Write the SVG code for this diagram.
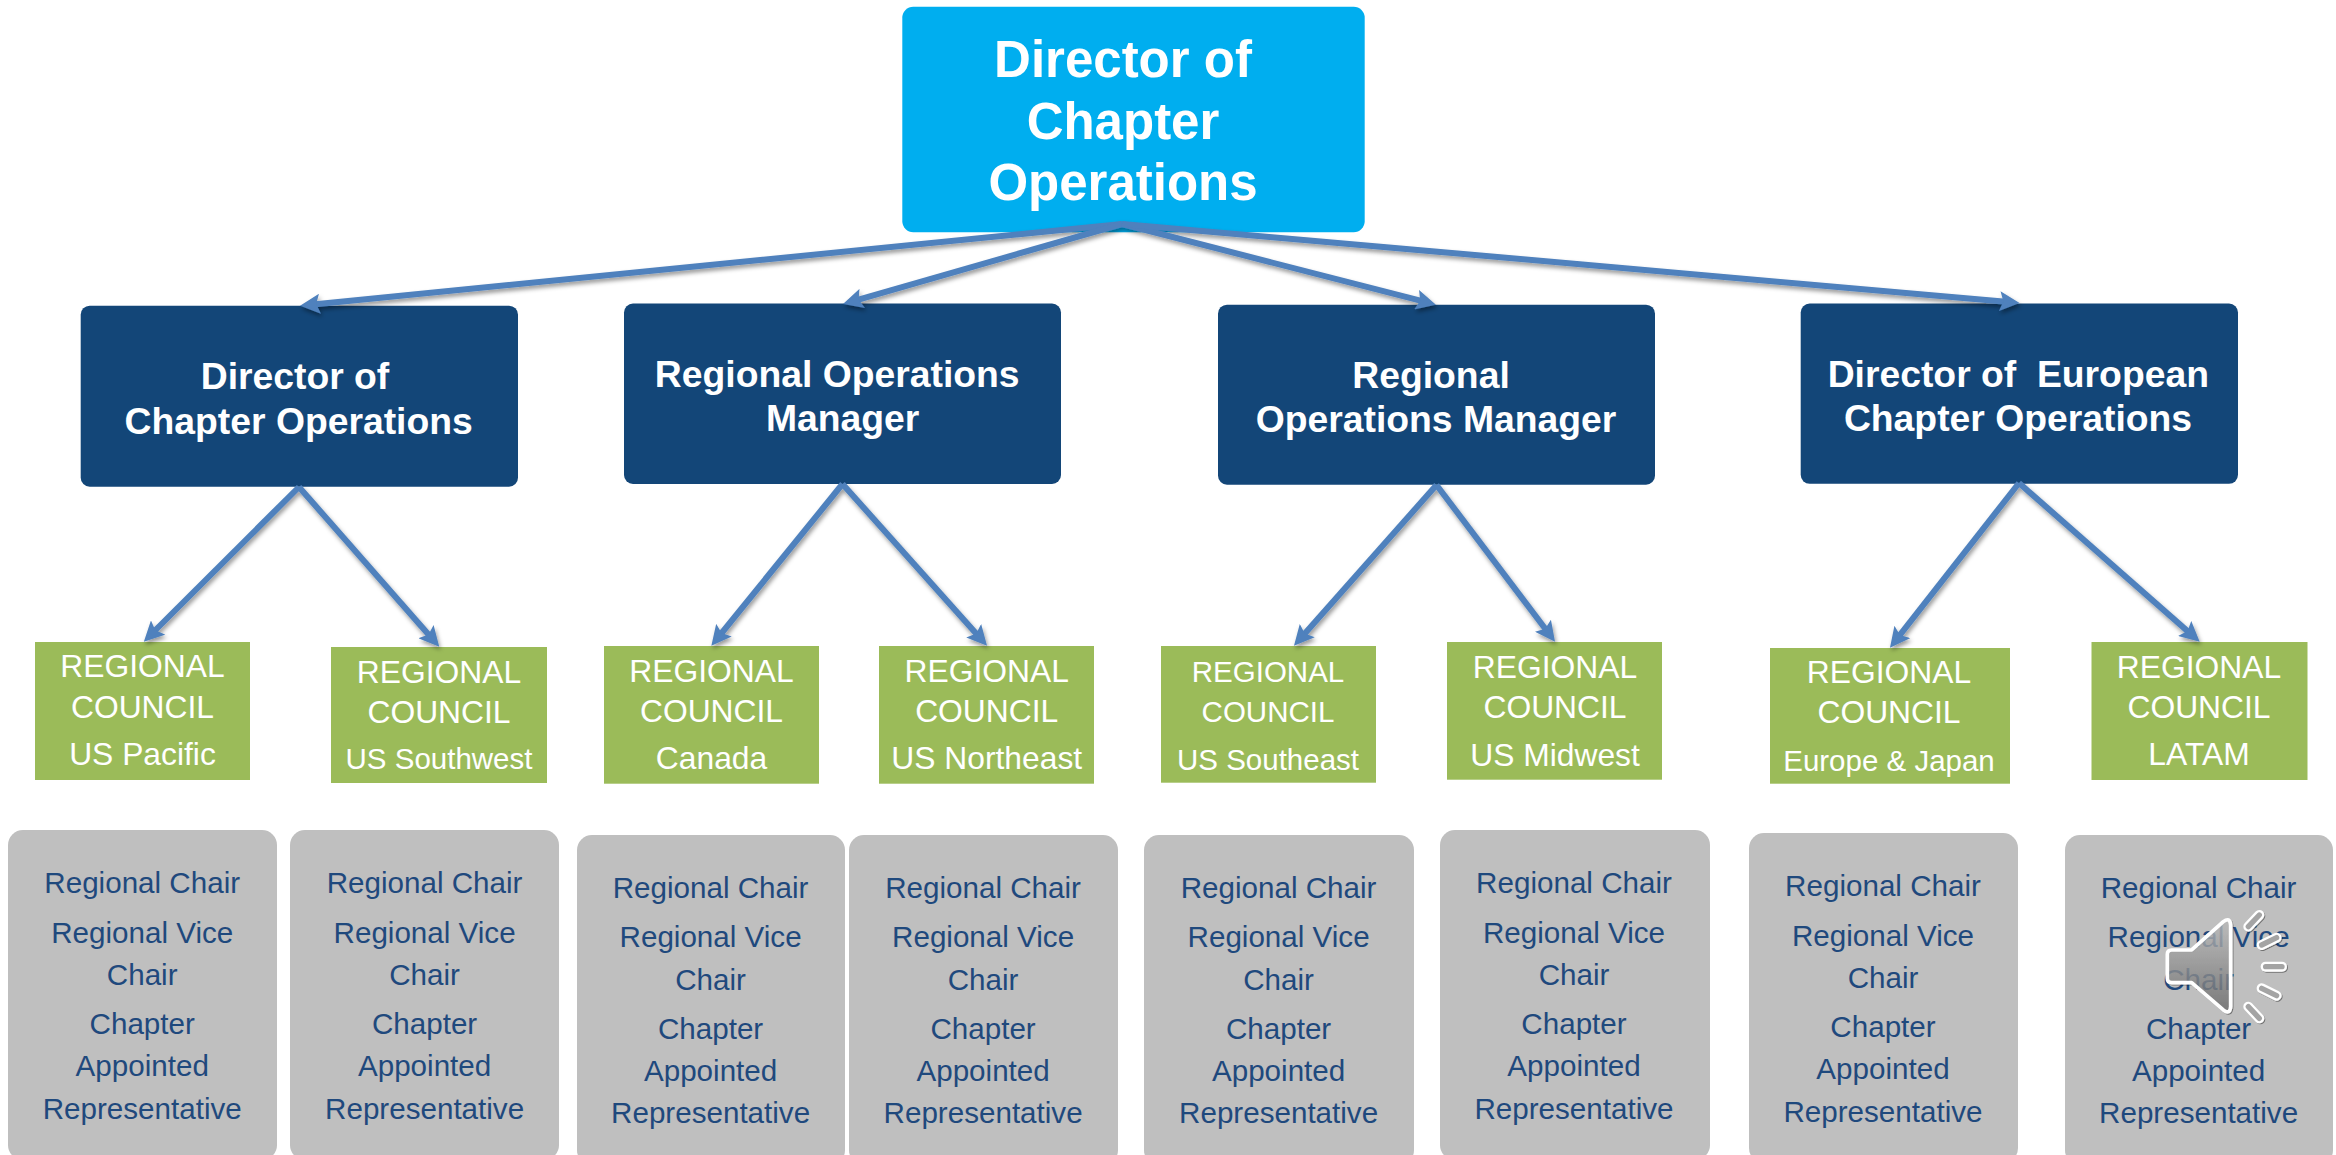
<svg xmlns="http://www.w3.org/2000/svg" width="2336" height="1155" viewBox="0 0 2336 1155">
<style>
text{font-family:"Liberation Sans",Arial,sans-serif;text-anchor:middle}
.top{fill:#00AEEF}
.nav{fill:#134678}
.grn{fill:#9BBB59}
.gry{fill:#BFBFBF}
.tt{fill:#fff;font-weight:bold;font-size:51px}
.nt{fill:#fff;font-weight:bold;font-size:37.3px;white-space:pre}
.gt{fill:#fff;font-size:31.8px}
.gs{fill:#fff;font-size:29.5px}
.rt{fill:#1F497D;font-size:29.6px}
.con line{stroke:#4F81BD;stroke-width:6;fill:none;marker-end:url(#ah)}
</style>
<defs>
<marker id="ah" markerUnits="userSpaceOnUse" markerWidth="20" markerHeight="20" refX="9.6" refY="8" orient="auto" viewBox="0 0 16 16"><path d="M0,0 L16,8 L0,16 L3,8 Z" fill="#4F81BD"/></marker>
<filter id="sh" x="-5%" y="-20%" width="110%" height="140%"><feDropShadow dx="1.5" dy="3" stdDeviation="2" flood-color="#000" flood-opacity=".4"/></filter>
<filter id="ish" x="-20%" y="-20%" width="150%" height="150%"><feDropShadow dx="3" dy="3" stdDeviation="2" flood-color="#000" flood-opacity=".4"/></filter>
<linearGradient id="spk" x1="0" y1="0" x2="0" y2="1"><stop offset="0" stop-color="#c4c4c4"/><stop offset="1" stop-color="#6f6f6f"/></linearGradient>
</defs>

<g id="director-top"><rect class="top" x="902.3" y="6.7" width="462.4" height="225.5" rx="11"/>
<text class="tt" x="1123" y="77">Director of</text><text class="tt" x="1123" y="138.7">Chapter</text><text class="tt" x="1123" y="200.4">Operations</text></g>

<g id="mgr-1"><rect class="nav" x="80.7" y="305.7" width="437.3" height="181" rx="9"/>
<text class="nt" x="295" y="389">Director of</text><text class="nt" x="298.7" y="434">Chapter Operations</text></g>
<g id="mgr-2"><rect class="nav" x="624" y="303.5" width="437" height="180.5" rx="9"/>
<text class="nt" x="837.2" y="387">Regional Operations</text><text class="nt" x="842.7" y="431.4">Manager</text></g>
<g id="mgr-3"><rect class="nav" x="1218" y="304.7" width="437" height="180" rx="9"/>
<text class="nt" x="1431" y="387.7">Regional</text><text class="nt" x="1436" y="432">Operations Manager</text></g>
<g id="mgr-4"><rect class="nav" x="1800.7" y="303.5" width="437.3" height="180.3" rx="9"/>
<text class="nt" x="2018.3" y="387" xml:space="preserve">Director of  European</text><text class="nt" x="2018" y="431">Chapter Operations</text></g>

<g id="rc-us-pacific"><rect class="grn" x="35" y="642" width="215" height="138"/>
<text class="gt" x="142.5" y="677.4">REGIONAL</text><text class="gt" x="142.5" y="717.5">COUNCIL</text><text class="gt" x="142.5" y="765.4">US Pacific</text></g>
<g id="rc-us-southwest"><rect class="grn" x="331" y="647" width="216" height="136"/>
<text class="gt" x="439" y="682.5">REGIONAL</text><text class="gt" x="439" y="722.5">COUNCIL</text><text class="gs" x="439" y="769.4">US Southwest</text></g>
<g id="rc-canada"><rect class="grn" x="604" y="646" width="215" height="137.7"/>
<text class="gt" x="711.5" y="681.7">REGIONAL</text><text class="gt" x="711.5" y="721.7">COUNCIL</text><text class="gt" x="711.5" y="769.4">Canada</text></g>
<g id="rc-us-northeast"><rect class="grn" x="879" y="646" width="215" height="137.7"/>
<text class="gt" x="986.7" y="681.7">REGIONAL</text><text class="gt" x="986.7" y="721.7">COUNCIL</text><text class="gt" x="986.7" y="769.4">US Northeast</text></g>
<g id="rc-us-southeast"><rect class="grn" x="1161" y="646" width="215" height="136.7"/>
<text class="gs" x="1268" y="682">REGIONAL</text><text class="gs" x="1268" y="722">COUNCIL</text><text class="gs" x="1268" y="769.6">US Southeast</text></g>
<g id="rc-us-midwest"><rect class="grn" x="1447" y="642" width="215" height="137.7"/>
<text class="gt" x="1555" y="678">REGIONAL</text><text class="gt" x="1555" y="718">COUNCIL</text><text class="gt" x="1555" y="765.6">US Midwest</text></g>
<g id="rc-europe-japan"><rect class="grn" x="1770" y="648" width="240" height="135.7"/>
<text class="gt" x="1889" y="682.6">REGIONAL</text><text class="gt" x="1889" y="722.6">COUNCIL</text><text class="gs" x="1889" y="771">Europe &amp; Japan</text></g>
<g id="rc-latam"><rect class="grn" x="2091.5" y="642" width="216" height="138"/>
<text class="gt" x="2199" y="678">REGIONAL</text><text class="gt" x="2199" y="717.7">COUNCIL</text><text class="gt" x="2199" y="765.3">LATAM</text></g>

<g id="roles-1"><rect class="gry" x="8" y="830" width="269" height="330" rx="15"/>
<text class="rt" x="142.2" y="893">Regional Chair</text><text class="rt" x="142.2" y="942.6">Regional Vice</text><text class="rt" x="142.2" y="985">Chair</text><text class="rt" x="142.2" y="1034">Chapter</text><text class="rt" x="142.2" y="1076.4">Appointed</text><text class="rt" x="142.2" y="1118.6">Representative</text></g>
<g id="roles-2"><rect class="gry" x="290" y="830" width="269" height="330" rx="15"/>
<text class="rt" x="424.6" y="893">Regional Chair</text><text class="rt" x="424.6" y="942.6">Regional Vice</text><text class="rt" x="424.6" y="985">Chair</text><text class="rt" x="424.6" y="1034">Chapter</text><text class="rt" x="424.6" y="1076.4">Appointed</text><text class="rt" x="424.6" y="1118.6">Representative</text></g>
<g id="roles-3"><rect class="gry" x="577" y="835" width="268" height="330" rx="15"/>
<text class="rt" x="710.6" y="898">Regional Chair</text><text class="rt" x="710.6" y="947.3">Regional Vice</text><text class="rt" x="710.6" y="990">Chair</text><text class="rt" x="710.6" y="1039">Chapter</text><text class="rt" x="710.6" y="1081.4">Appointed</text><text class="rt" x="710.6" y="1123.4">Representative</text></g>
<g id="roles-4"><rect class="gry" x="849" y="835" width="269" height="330" rx="15"/>
<text class="rt" x="983.1" y="898">Regional Chair</text><text class="rt" x="983.1" y="947.3">Regional Vice</text><text class="rt" x="983.1" y="990">Chair</text><text class="rt" x="983.1" y="1039">Chapter</text><text class="rt" x="983.1" y="1081.4">Appointed</text><text class="rt" x="983.1" y="1123.4">Representative</text></g>
<g id="roles-5"><rect class="gry" x="1144" y="835" width="270" height="330" rx="15"/>
<text class="rt" x="1278.6" y="898">Regional Chair</text><text class="rt" x="1278.6" y="947.3">Regional Vice</text><text class="rt" x="1278.6" y="990">Chair</text><text class="rt" x="1278.6" y="1039">Chapter</text><text class="rt" x="1278.6" y="1081.4">Appointed</text><text class="rt" x="1278.6" y="1123.4">Representative</text></g>
<g id="roles-6"><rect class="gry" x="1440" y="830" width="270" height="330" rx="15"/>
<text class="rt" x="1574" y="893">Regional Chair</text><text class="rt" x="1574" y="942.6">Regional Vice</text><text class="rt" x="1574" y="985">Chair</text><text class="rt" x="1574" y="1034">Chapter</text><text class="rt" x="1574" y="1076.4">Appointed</text><text class="rt" x="1574" y="1118.6">Representative</text></g>
<g id="roles-7"><rect class="gry" x="1749" y="833" width="269" height="330" rx="15"/>
<text class="rt" x="1883" y="896">Regional Chair</text><text class="rt" x="1883" y="945.6">Regional Vice</text><text class="rt" x="1883" y="988">Chair</text><text class="rt" x="1883" y="1037">Chapter</text><text class="rt" x="1883" y="1079.4">Appointed</text><text class="rt" x="1883" y="1121.6">Representative</text></g>
<g id="roles-8"><rect class="gry" x="2065" y="835" width="268" height="330" rx="15"/>
<text class="rt" x="2198.6" y="898">Regional Chair</text><text class="rt" x="2198.6" y="947.3">Regional Vice</text><text class="rt" x="2198.6" y="990">Chair</text><text class="rt" x="2198.6" y="1039">Chapter</text><text class="rt" x="2198.6" y="1081.4">Appointed</text><text class="rt" x="2198.6" y="1123.4">Representative</text></g>

<g id="connectors" class="con" filter="url(#sh)">
<line x1="1122" y1="224" x2="308" y2="304.9"/>
<line x1="1122" y1="224" x2="850.7" y2="301.8"/>
<line x1="1122" y1="224" x2="1428.2" y2="302.7"/>
<line x1="1122" y1="224" x2="2011.6" y2="302.3"/>
<line x1="299" y1="487" x2="149.5" y2="636"/>
<line x1="299" y1="487" x2="434" y2="640.7"/>
<line x1="842.5" y1="484" x2="716.4" y2="639.5"/>
<line x1="842.5" y1="484" x2="981.7" y2="639.7"/>
<line x1="1436.5" y1="485" x2="1299.3" y2="639.7"/>
<line x1="1436.5" y1="485" x2="1550.2" y2="635.3"/>
<line x1="2019" y1="483" x2="1894.9" y2="641.4"/>
<line x1="2019" y1="483" x2="2193.7" y2="636.4"/>
</g>

<g id="audio-icon" transform="translate(2000 800) scale(.3333)" filter="url(#ish)">
<path d="M515,450 H575 L670,365 Q690,350 692,375 V620 Q690,645 670,630 L575,548 H515 Q502,548 502,535 V463 Q502,450 515,450 Z" fill="url(#spk)" fill-opacity=".72" stroke="#fff" stroke-width="11" stroke-linejoin="round"/>
<g fill="none" stroke-linecap="round">
<g stroke="#fff" stroke-width="30"><line x1="745" y1="380" x2="778" y2="345"/><line x1="785" y1="435" x2="830" y2="413"/><line x1="797" y1="500" x2="846" y2="500"/><line x1="785" y1="565" x2="830" y2="587"/><line x1="745" y1="620" x2="778" y2="655"/></g>
<g stroke="#a4a4a4" stroke-width="16"><line x1="745" y1="380" x2="778" y2="345"/><line x1="785" y1="435" x2="830" y2="413"/><line x1="797" y1="500" x2="846" y2="500"/><line x1="785" y1="565" x2="830" y2="587"/><line x1="745" y1="620" x2="778" y2="655"/></g>
</g>
</g>
</svg>
